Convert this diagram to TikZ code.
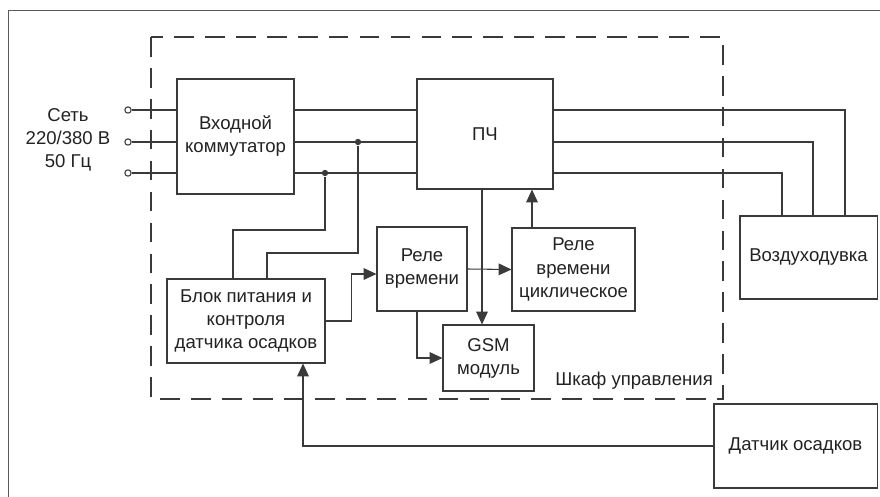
\documentclass[tikz,border=0pt]{standalone}
\usepackage{fontspec}
\setmainfont{Liberation Sans}
\usetikzlibrary{arrows.meta, calc}
\definecolor{cline}{HTML}{3A3A3A}
\definecolor{cframe}{HTML}{5A5A5A}
\definecolor{ctext}{HTML}{222222}
\tikzset{
  every picture/.style={line width=0.75pt},
  box/.style={draw=cline, fill=white, align=center, inner sep=0pt, text=ctext, font=\fontsize{13.2}{16.4}\selectfont},
  wire/.style={draw=cline},
  arrow/.style={-{Triangle[length=3.2mm, width=2.9mm]}, draw=cline},
  cabinet/.style={draw=cline, dash pattern=on 14pt off 8pt},
  note/.style={align=center, text=ctext, font=\fontsize{13.2}{16.4}\selectfont},
  junction/.style={circle, fill=cline, inner sep=0pt, minimum size=4.5pt},
  terminal/.style={circle, draw=cline, fill=white, inner sep=0pt, minimum size=4.5pt},
}

\begin{document}
\begin{tikzpicture}[x=0.025cm, y=-0.025cm]
  \useasboundingbox (0,0) rectangle (880,497);
  % sheet edge
  \draw[cframe, line width=0.7pt] (8,497) -- (8,10) -- (880,10);
  % control cabinet
  \draw[cabinet] (151,37) rectangle (723,399);
  \node[note, anchor=south east] (cab) at (718,395) {Шкаф управления};
  % blocks
  \node[box, minimum width=2.925cm, minimum height=2.875cm] (in) at (235.5,136.5) {Входной\\коммутатор};
  \node[box, minimum width=3.4cm, minimum height=2.75cm] (pch) at (485,134) {ПЧ};
  \node[box, minimum width=3.95cm, minimum height=2.1cm] (psu) at (246,321) {Блок питания и\\контроля\\датчика осадков};
  \node[box, minimum width=2.25cm, minimum height=2.1cm] (rt) at (422,269) {Реле\\времени};
  \node[box, minimum width=3.075cm, minimum height=2.075cm] (rc) at (573.5,269.5) {Реле\\времени\\циклическое};
  \node[box, minimum width=2.275cm, minimum height=1.65cm] (gsm) at (488.5,358) {GSM\\модуль};
  \node[box, minimum width=3.425cm, minimum height=2.075cm] (fan) at (808.5,257.5) {Воздуходувка};
  \node[box, minimum width=4.075cm, minimum height=2.1cm] (sens) at (795.5,446) {Датчик осадков};
  % mains input
  \node[note] (mains) at (68,140) {Сеть\\220/380 В\\50 Гц};
  \foreach \n/\y in {1/110, 2/142, 3/173} {
    \node[terminal] (t\n) at (128,\y) {};
    \draw[wire] (t\n.east) -- (t\n -| in.west);
    \draw[wire] (in.east |- t\n) -- (t\n -| pch.west);
  }
  % three phases to the blower
  \foreach \n/\dx in {1/36.5, 2/4.5, 3/-26.5} {
    \draw[wire] (pch.east |- t\n) -| ($(fan.north)+(\dx,0)$);
  }
  % supply taps
  \node[junction] (j2) at (358,142) {};
  \node[junction] (j3) at (325,173) {};
  \draw[wire] (j3) -- ++(0,57) -| ($(psu.north)+(-13,0)$);
  \draw[wire] (j2) -- ++(0,111) -| ($(psu.north)+(21,0)$);
  % control signals
  \coordinate (rcup) at ($(rc.north)+(-41.5,0)$);
  \coordinate (pchdn) at ($(pch.south)+(-3,0)$);
  \coordinate (rtdn) at ($(rt.south)+(-5,0)$);
  \coordinate (psuin) at ($(psu.south)+(57,0)$);
  \draw[arrow] (psu.east) -- ++(26,0) |- ($(rt.west)+(0,5)$);
  \draw[arrow] (rt.east) -- (rc.west);
  \draw[arrow] (rcup) -- (rcup |- pch.south);
  \draw[arrow] (pchdn) -- (pchdn |- gsm.north);
  \draw[arrow] (rtdn) |- (gsm.west);
  \draw[arrow] (sens.west) -| (psuin);
\end{tikzpicture}
\end{document}
